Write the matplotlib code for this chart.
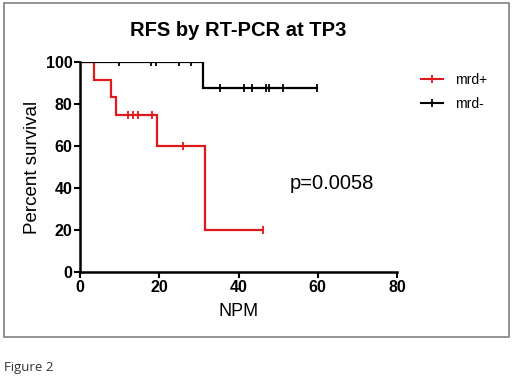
import matplotlib
matplotlib.use("Agg")
import matplotlib.pyplot as plt
import numpy as np
from matplotlib.patches import Rectangle
from matplotlib.lines import Line2D

plt.rcParams['font.family'] = ['Liberation Sans', 'DejaVu Sans']

# Data: times (months) and event flags (1=relapse, 0=censored)
pos_times = [3.5, 7.8, 9.0, 12.2, 13.5, 14.7, 18.2, 19.5, 25.9, 31.5, 31.5, 46.3]
pos_events = [1, 1, 1, 0, 0, 0, 0, 1, 0, 1, 1, 0]
neg_times = [9.8, 17.8, 19.1, 25.1, 27.9, 31.1, 35.4, 41.5, 43.4, 46.9, 47.8, 51.3, 59.7]
neg_events = [0, 0, 0, 0, 0, 1, 0, 0, 0, 0, 0, 0, 0]
series_labels = ["mrd+", "mrd-"]
x_ticks = [0, 20, 40, 60, 80]
y_ticks = [0, 20, 40, 60, 80, 100]
p_text = "p=0.0058"


def km(times, events):
    t = np.array(times, float)
    e = np.array(events, int)
    order = np.argsort(t, kind="stable")
    t, e = t[order], e[order]
    xs, ys = [0.0], [100.0]
    s = 100.0
    cens_x, cens_y = [], []
    for ut in np.unique(t):
        at_risk = np.sum(t >= ut)
        d = np.sum((t == ut) & (e == 1))
        c = np.sum((t == ut) & (e == 0))
        if d > 0:
            xs.append(ut); ys.append(s)
            s = s * (1 - d / at_risk)
            xs.append(ut); ys.append(s)
        if c > 0:
            cens_x.append(ut); cens_y.append(s)
    last = t.max()
    xs.append(last); ys.append(s)
    return xs, ys, cens_x, cens_y


fig = plt.figure(figsize=(5.2, 3.81), dpi=100)
ax = fig.add_axes([80/520, 1-272/381, 317/520, 210/381])

for times, events, col in [(pos_times, pos_events, "#e0191c"), (neg_times, neg_events, "black")]:
    xs, ys, cx, cy = km(times, events)
    ax.plot(xs, ys, color=col, lw=1.6, solid_joinstyle="miter")
    ax.plot(cx, cy, ls="none", marker="|", ms=6, mew=1.3, color=col)

ax.set_xlim(0, 80)
ax.set_ylim(0, 100)
ax.set_xticks(x_ticks)
ax.set_yticks(y_ticks)
for sp in ["top", "right"]:
    ax.spines[sp].set_visible(False)
for sp in ["left", "bottom"]:
    ax.spines[sp].set_linewidth(1.8)
ax.tick_params(direction="out", length=4, width=1.5, labelsize=11.5, pad=1.5)
for lab in ax.get_xticklabels() + ax.get_yticklabels():
    lab.set_fontweight("bold")
ax.set_xlabel("NPM", fontsize=13, labelpad=6)
ax.set_ylabel("Percent survival", fontsize=13.5, labelpad=3)
ax.text(53, 42, p_text, fontsize=14.5, ha="left", va="center")

fig.text(238/520, 1-30/381, "RFS by RT-PCR at TP3", fontsize=14.5, fontweight="bold", ha="center", va="center")

# legend
handles = [Line2D([0], [0], color="#e0191c", lw=1.5, marker="|", ms=6, mew=1.3),
           Line2D([0], [0], color="black", lw=1.5, marker="|", ms=6, mew=1.3)]
fig.legend(handles, series_labels, loc="upper left", bbox_to_anchor=(408/520, 1-60/381),
           frameon=False, fontsize=10, handlelength=1.6, handletextpad=0.9, labelspacing=0.75)

# frame
fig.patches.append(Rectangle((4/520, 1-337/381), 505/520, 334/381, transform=fig.transFigure,
                             fill=False, edgecolor="#808080", lw=1.2))
fig.text(4/520, 1-368/381, "Figure 2", fontsize=9.5, family=["Open Sans", "DejaVu Sans"],
         color="#333333", ha="left", va="center")

fig.savefig("out.png", dpi=100)
